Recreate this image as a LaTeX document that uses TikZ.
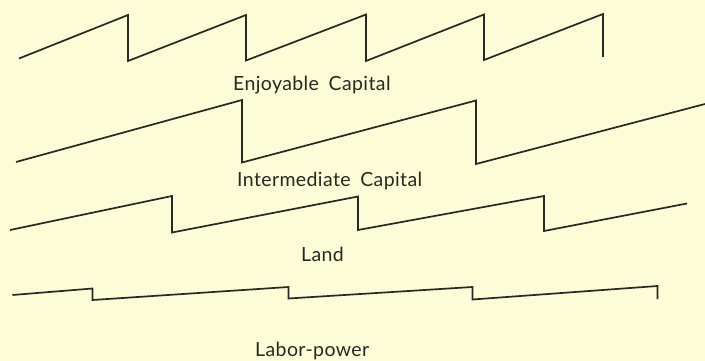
\documentclass[tikz,border=0pt]{standalone}
\usepackage{fontspec}
\setmainfont{Lato}[LetterSpace=2,WordSpace=1.8]
\definecolor{paper}{RGB}{252,252,214}
\definecolor{ink}{RGB}{40,40,36}
\begin{document}
\begin{tikzpicture}[x=1pt,y=-1pt,
  wave/.style={draw=ink,line width=1.7pt,line join=miter,line cap=butt},
  lbl/.style={text=ink,font=\fontsize{19.5}{22}\selectfont,inner sep=0pt,anchor=base west}]
\fill[paper] (0,0) rectangle (705,361);
\useasboundingbox (0,0) rectangle (705,361);
% Enjoyable Capital
\draw[wave] (19,58.5) -- (128,15) -- (128,61) -- (246,15) -- (246,60.5) -- (366,14.5) -- (366,61) -- (484,14.5) -- (484,60) -- (603,14) -- (603,57);
\node[lbl] (enj) at (233,90.5) {Enjoyable Capital};
% Intermediate Capital
\draw[wave] (16,162) -- (242,100) -- (242,162.5) -- (476,100.5) -- (476,164) -- (705,104);
\node[lbl] (inter) at (237,186) {Intermediate Capital};
% Land
\draw[wave] (10,230) -- (172,196) -- (172,232.5) -- (358,196.5) -- (358,230) -- (544,196) -- (544,231) -- (687,203.5);
\node[lbl] (land) at (301,261.5) {Land};
% Labor-power
\draw[wave] (12.5,295) -- (92.5,288.5) -- (92.5,300) -- (288.5,287) -- (288.5,298.5) -- (472.5,287) -- (472.5,299.5) -- (657.5,286) -- (657.5,299);
\node[lbl] (labor) at (255,356) {Labor-power};
\end{tikzpicture}
\end{document}
